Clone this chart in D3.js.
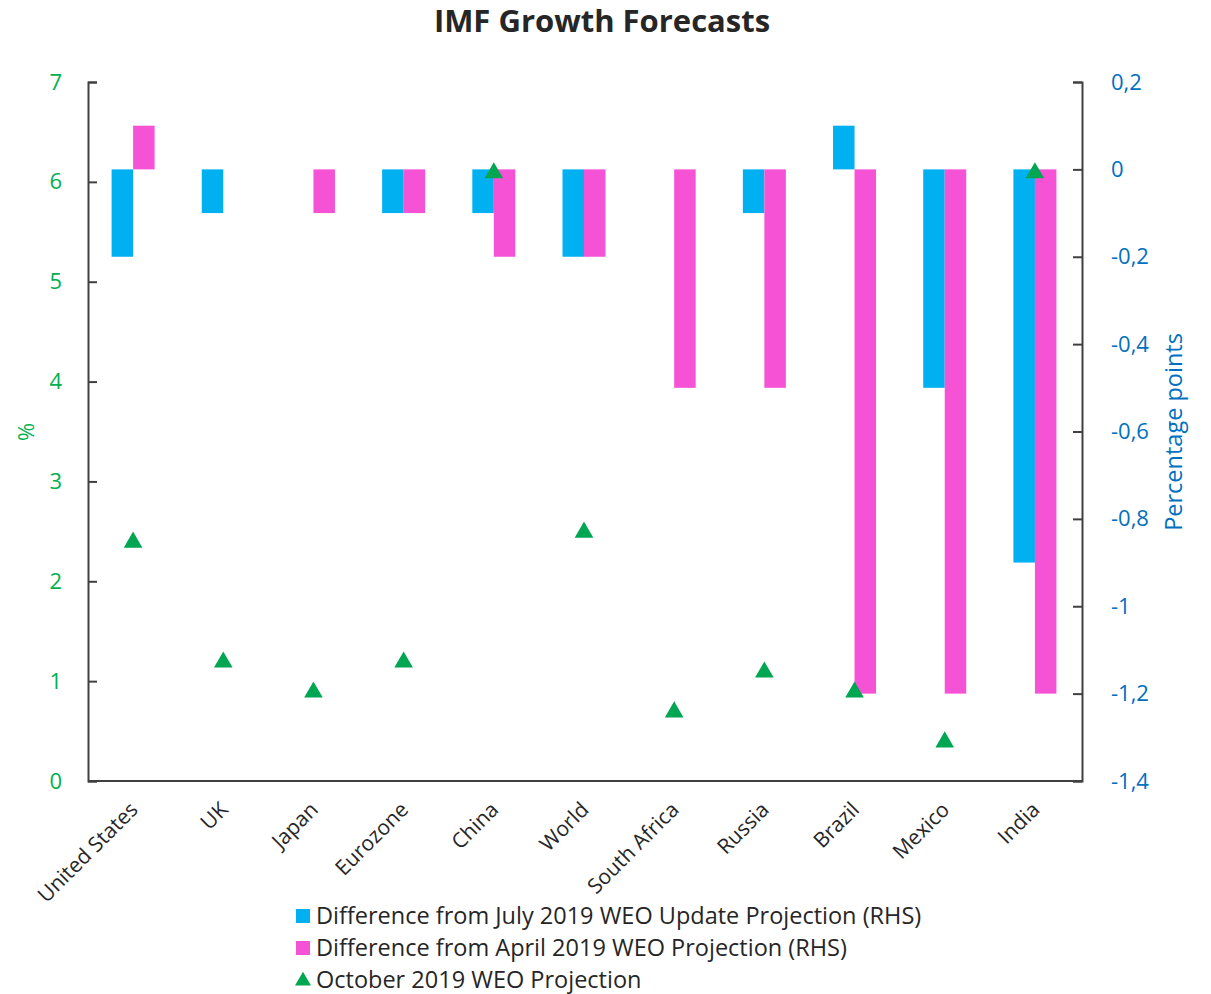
<!DOCTYPE html>
<html>
<head>
<meta charset="utf-8">
<script src="https://cdn.jsdelivr.net/npm/d3@7"></script>
<style>
  body { margin: 0; background: #fff; }
  svg text { font-family: "Open Sans", "Noto Sans", sans-serif; }
</style>
</head>
<body>
<div id="chart"></div>
<script>
// data
let countries = ["United States", "UK", "Japan", "Eurozone", "China", "World", "South Africa", "Russia", "Brazil", "Mexico", "India"];
let diffJuly = [-0.2, -0.1, 0, -0.1, -0.1, -0.2, 0, -0.1, 0.1, -0.5, -0.9];
let diffApril = [0.1, 0, -0.1, -0.1, -0.2, -0.2, -0.5, -0.5, -1.2, -1.2, -1.2];
let octProj = [2.4, 1.2, 0.9, 1.2, 6.1, 2.5, 0.7, 1.1, 0.9, 0.4, 6.1];
let leftTicks = [0, 1, 2, 3, 4, 5, 6, 7];
let rightTicks = [0.2, 0, -0.2, -0.4, -0.6, -0.8, -1, -1.2, -1.4];

let width = 1211;
let height = 994;
let margin = {top: 82, right: 131, bottom: 213, left: 88};

let blue = "#00b0f0";
let pink = "#f652d6";
let green = "#00a651";

let svg = d3.select("#chart")
	.append("svg")
	.attr("width", width)
	.attr("height", height);

let x = d3.scaleBand()
	.domain(countries)
	.range([margin.left, width - margin.right]);

let yLeft = d3.scaleLinear()
	.domain([0, 7])
	.range([height - margin.bottom, margin.top]);

let yRight = d3.scaleLinear()
	.domain([-1.4, 0.2])
	.range([height - margin.bottom, margin.top]);

let barW = 21.5;

// title
svg.append("text")
	.attr("x", 602)
	.attr("y", 32)
	.attr("text-anchor", "middle")
	.style("font-size", "31px")
	.style("font-weight", "bold")
	.attr("fill", "#262626")
	.text("IMF Growth Forecasts");

// bars
let bars = svg.append("g");
bars.selectAll(".july")
	.data(countries)
	.enter().append("rect")
	.attr("x", d => x(d) + x.bandwidth() / 2 - barW)
	.attr("width", barW)
	.attr("y", (d, i) => yRight(Math.max(0, diffJuly[i])))
	.attr("height", (d, i) => Math.abs(yRight(diffJuly[i]) - yRight(0)))
	.attr("fill", blue);

bars.selectAll(".april")
	.data(countries)
	.enter().append("rect")
	.attr("x", d => x(d) + x.bandwidth() / 2)
	.attr("width", barW)
	.attr("y", (d, i) => yRight(Math.max(0, diffApril[i])))
	.attr("height", (d, i) => Math.abs(yRight(diffApril[i]) - yRight(0)))
	.attr("fill", pink);

// triangles
let tri = d3.symbol().type(d3.symbolTriangle).size(150);
svg.append("g")
	.selectAll("path")
	.data(countries)
	.enter().append("path")
	.attr("d", tri)
	.attr("transform", (d, i) => "translate(" + (x(d) + x.bandwidth() / 2) + "," + (yLeft(octProj[i]) + 1) + ")")
	.attr("fill", green);

// axes
let axisColor = "#404040";

let leftAxis = svg.append("g")
	.attr("transform", "translate(" + margin.left + ",0)")
	.call(d3.axisLeft(yLeft).tickValues(leftTicks).tickFormat(d3.format("d"))
		.tickSizeInner(-9).tickSizeOuter(-9).tickPadding(26));
leftAxis.selectAll("line, path").attr("stroke", axisColor).attr("stroke-width", 2);
leftAxis.selectAll("text").attr("fill", "#00b050").style("font-size", "22px");

let rightAxis = svg.append("g")
	.attr("transform", "translate(" + (width - margin.right + 2) + ",0)")
	.call(d3.axisRight(yRight).tickValues(rightTicks).tickSizeInner(-9).tickSizeOuter(-9).tickPadding(29)
		.tickFormat(d => String(+d.toFixed(1)).replace(".", ",")));
rightAxis.selectAll("line, path").attr("stroke", axisColor).attr("stroke-width", 2);
rightAxis.selectAll("text").attr("fill", "#0070c0").style("font-size", "22px");

let bottomAxis = svg.append("g")
	.attr("transform", "translate(0," + (height - margin.bottom) + ")")
	.call(d3.axisBottom(x).tickSize(0).tickPadding(0));
bottomAxis.select("path").attr("stroke", axisColor).attr("stroke-width", 2)
	.attr("d", "M" + margin.left + ",0H" + (width - margin.right + 2));
bottomAxis.selectAll("text")
	.attr("fill", "#262626")
	.style("font-size", "21px")
	.attr("text-anchor", "end")
	.attr("dy", "0")
	.attr("transform", "translate(6,30) rotate(-45)");

// axis titles
svg.append("text")
	.attr("transform", "translate(34,432) rotate(-90)")
	.attr("text-anchor", "middle")
	.attr("fill", "#00b050")
	.style("font-size", "22px")
	.text("%");

svg.append("text")
	.attr("transform", "translate(1182,432) rotate(-90)")
	.attr("text-anchor", "middle")
	.attr("fill", "#0070c0")
	.style("font-size", "23.5px")
	.text("Percentage points");

// legend
let legendItems = [
	{label: "Difference from July 2019 WEO Update Projection (RHS)", color: blue, type: "rect"},
	{label: "Difference from April 2019 WEO Projection (RHS)", color: pink, type: "rect"},
	{label: "October 2019 WEO Projection", color: green, type: "tri"}
];

let legend = svg.append("g");
legendItems.forEach(function(item, i) {
	let cy = 916 + i * 32;
	if (item.type == "rect") {
		legend.append("rect")
			.attr("x", 296)
			.attr("y", cy - 7)
			.attr("width", 14)
			.attr("height", 14)
			.attr("fill", item.color);
	} else {
		legend.append("path")
			.attr("d", d3.symbol().type(d3.symbolTriangle).size(110))
			.attr("transform", "translate(303," + (cy + 1) + ")")
			.attr("fill", item.color);
	}
	legend.append("text")
		.attr("x", 316)
		.attr("y", cy + 8)
		.attr("fill", "#262626")
		.style("font-size", "23.5px")
		.text(item.label);
});
</script>
</body>
</html>
